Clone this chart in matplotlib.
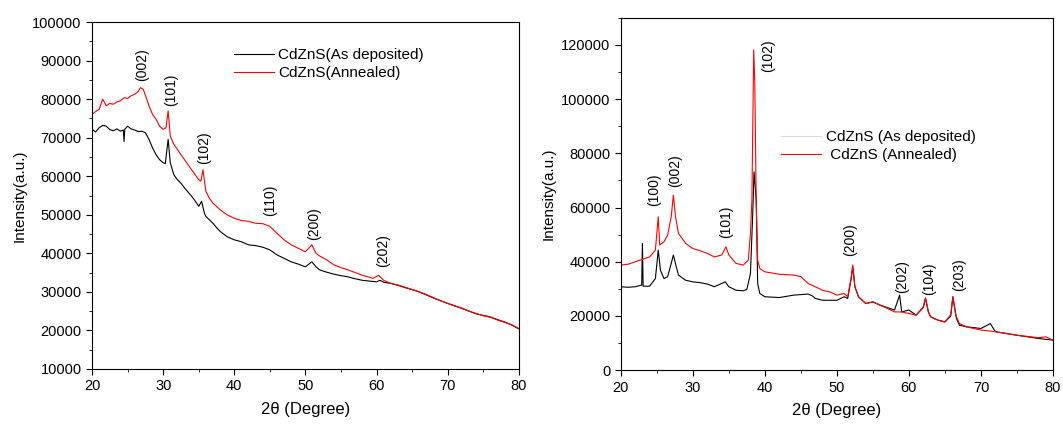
import numpy as np
import matplotlib.pyplot as plt
from matplotlib.ticker import MultipleLocator
from matplotlib.lines import Line2D

plt.rcParams['font.family'] = ['Liberation Sans', 'DejaVu Sans']

# ---- left panel: CdZnS films, broad background ----
l_dep_x = [20, 20.5, 21, 21.5, 22, 22.5, 23, 23.5, 24, 24.4, 24.5, 24.6, 25, 25.5, 26, 26.5, 27, 27.5, 28, 28.5,
           29, 29.5, 30, 30.3, 30.7, 31, 31.5, 32, 32.5, 33, 33.5, 34, 34.5, 35, 35.4, 35.8, 36, 36.5, 37, 37.5,
           38, 39, 40, 41, 42, 43, 44, 45, 46, 47, 48, 49, 50, 50.9, 51.5, 52, 53, 54, 55, 56, 57, 58, 59, 60,
           60.5, 61, 62, 63, 64, 65, 66, 67, 68, 69, 70, 71, 72, 73, 74, 75, 76, 77, 78, 79, 80]
l_dep_y = [72200, 71500, 72600, 73200, 73000, 72100, 71800, 72300, 71700, 72000, 69000, 72200, 73000, 72300,
           72000, 71600, 71700, 71300, 69600, 67400, 65600, 64300, 63500, 63300, 69600, 63500, 60400, 59100,
           58200, 57000, 55900, 54800, 53600, 52200, 53500, 50400, 49600, 48700, 47800, 46700, 45700, 44300,
           43500, 43000, 42200, 42000, 41600, 40900, 39600, 38700, 37800, 37200, 36500, 37800, 36500, 35700,
           35100, 34600, 34200, 33900, 33400, 33000, 32800, 32600, 33000, 32500, 32200, 31700, 31100, 30600,
           30000, 29200, 28400, 27700, 27000, 26400, 25700, 25000, 24300, 23900, 23500, 22800, 22200, 21400,
           20400]

l_ann_x = [20, 20.5, 21, 21.5, 22, 22.5, 23, 23.5, 24, 24.5, 25, 25.5, 26, 26.5, 26.8, 27.2, 27.6, 28, 28.5,
           29, 29.5, 30, 30.4, 30.7, 31, 31.5, 32, 32.5, 33, 33.5, 34, 34.5, 35, 35.3, 35.6, 36, 36.5, 37, 37.5,
           38, 39, 40, 41, 42, 43, 44, 45, 46, 47, 48, 49, 50, 50.9, 51.5, 52, 53, 54, 55, 56, 57, 58, 59,
           59.5, 60.3, 61, 62, 63, 64, 65, 66, 67, 68, 69, 70, 71, 72, 73, 74, 75, 76, 77, 78, 79, 80]
l_ann_y = [76100, 76800, 77400, 80000, 78300, 78900, 78700, 79300, 79600, 80400, 80200, 80900, 81300, 82000,
           83000, 82600, 80500, 78300, 76100, 74800, 73000, 72200, 72600, 77000, 70400, 68300, 67000, 65600,
           64300, 63000, 61700, 60400, 59100, 58700, 61700, 56100, 54300, 53000, 52200, 51300, 50000, 49100,
           48500, 48300, 47800, 47700, 47000, 45200, 43500, 42200, 41300, 40400, 42200, 40000, 39300, 38300,
           37000, 36300, 35700, 35000, 34300, 33800, 33500, 34300, 33000, 32200, 31800, 31200, 30600, 30000,
           29300, 28500, 27700, 27000, 26300, 25800, 25000, 24400, 23800, 23400, 22700, 22100, 21500, 20500]

l_hkl = ['(002)', '(101)', '(102)', '(110)', '(200)', '(202)']
l_hkl_x = [27.0, 31.1, 35.8, 45.1, 51.2, 60.9]
l_hkl_y = [88900, 82400, 67400, 53700, 47700, 40700]

# ---- right panel: CdZnS films, sharp reflections ----
r_dep_x = [20, 21, 22, 22.9, 23.0, 23.1, 24, 24.8, 25.2, 25.5, 26, 26.5, 27, 27.3, 27.7, 28, 29, 30, 31, 32,
           33, 34, 34.5, 35, 36, 37, 37.5, 38.0, 38.3, 38.5, 38.8, 39.0, 39.3, 40, 42, 44, 46, 46.6, 47, 48,
           50, 51, 51.5, 52.0, 52.2, 52.5, 53, 54, 55, 56, 57, 58, 58.7, 59, 60, 61, 62.0, 62.3, 62.7, 63, 64,
           65, 65.8, 66.1, 66.6, 67, 68, 70, 71.3, 72, 75, 78, 80]
r_dep_y = [30800, 30600, 30800, 31400, 46800, 31000, 31000, 33800, 44300, 36900, 33800, 34500, 39400, 42500,
           38200, 35100, 33200, 32600, 32300, 31800, 30800, 32000, 32600, 30800, 29500, 29300, 29800, 35700,
           56600, 73200, 62800, 32000, 28300, 27100, 26800, 27700, 28100, 27400, 26500, 25800, 25800, 27100,
           26500, 34000, 38200, 30800, 27100, 24600, 25200, 24000, 23100, 22200, 27700, 21500, 22200, 20300,
           23200, 26500, 21500, 19700, 18500, 17800, 20000, 27100, 19100, 16600, 16000, 15400, 17200, 14200,
           12900, 11700, 11100]

r_ann_x = [20, 21, 22, 23, 24, 24.8, 25.2, 25.4, 26, 26.5, 27.0, 27.3, 27.6, 28, 29, 30, 31, 32, 33, 34, 34.6,
           35, 36, 37, 37.7, 38.0, 38.2, 38.45, 38.6, 38.8, 39.0, 39.3, 40, 42, 44, 45, 46, 47, 48, 49, 50, 51,
           51.5, 52.0, 52.2, 52.5, 53, 54, 55, 56, 57, 58, 59, 60, 61, 62.0, 62.3, 62.7, 63, 64, 65, 65.8,
           66.1, 66.5, 67, 68, 70, 72, 75, 78, 79, 80]
r_ann_y = [38800, 39100, 40000, 40900, 41800, 44300, 56600, 46200, 47400, 49800, 56600, 64600, 56600, 50500,
           46800, 44900, 44100, 43100, 41800, 42500, 45500, 42500, 39400, 38800, 40600, 50500, 62800, 118200,
           106500, 62000, 40600, 37500, 36300, 35400, 35100, 34500, 32000, 30800, 29500, 28900, 27700, 28300,
           27100, 34500, 38800, 30800, 27100, 24600, 25200, 24000, 22800, 21500, 21500, 20900, 20300, 23400,
           26700, 21500, 19700, 18500, 17800, 20500, 27100, 20300, 17200, 16000, 14800, 14200, 12900, 12000,
           12300, 11100]

r_hkl = ['(100)', '(002)', '(101)', '(102)', '(200)', '(202)', '(104)', '(203)']
r_hkl_x = [24.6, 27.5, 34.6, 40.4, 51.9, 59.0, 62.8, 66.9]
r_hkl_y = [66500, 73600, 54800, 116000, 48000, 34700, 33800, 35400]

fig = plt.figure(figsize=(10.63, 4.26), dpi=100)
ax1 = fig.add_axes([0.0866, 0.134, 0.4014, 0.814])
ax2 = fig.add_axes([0.584, 0.131, 0.4066, 0.827])

# left
ax1.plot(l_dep_x, l_dep_y, color='black', lw=0.8)
ax1.plot(l_ann_x, l_ann_y, color='red', lw=0.8)
for t, x, y in zip(l_hkl, l_hkl_x, l_hkl_y):
    ax1.text(x, y, t, rotation=90, ha='center', va='center', fontsize=10)
ax1.set_xlim(20, 80)
ax1.set_ylim(10000, 100000)
ax1.yaxis.set_major_locator(MultipleLocator(10000))
ax1.yaxis.set_minor_locator(MultipleLocator(5000))
ax1.set_ylabel('Intensity(a.u.)', fontsize=11, labelpad=4)
ax1.legend(handles=[Line2D([], [], color='black', lw=0.8), Line2D([], [], color='red', lw=0.8)],
           labels=['CdZnS(As deposited)', 'CdZnS(Annealed)'], loc='upper left',
           bbox_to_anchor=(0.3, 0.965), frameon=False, fontsize=11, handlelength=2.6,
           handletextpad=0.3, labelspacing=0.25)

# right
ax2.plot(r_dep_x, r_dep_y, color='black', lw=0.8)
ax2.plot(r_ann_x, r_ann_y, color='red', lw=0.8)
for t, x, y in zip(r_hkl, r_hkl_x, r_hkl_y):
    ax2.text(x, y, t, rotation=90, ha='center', va='center', fontsize=10)
ax2.set_xlim(20, 80)
ax2.set_ylim(0, 130000)
ax2.yaxis.set_major_locator(MultipleLocator(20000))
ax2.yaxis.set_minor_locator(MultipleLocator(10000))
ax2.set_ylabel('Intensity(a.u.)', fontsize=11, labelpad=4)
ax2.legend(handles=[Line2D([], [], color='#dddddd', lw=0.8), Line2D([], [], color='red', lw=0.8)],
           labels=['CdZnS (As deposited)', ' CdZnS (Annealed)'], loc='upper left',
           bbox_to_anchor=(0.34, 0.72), frameon=False, fontsize=11, handlelength=2.6,
           handletextpad=0.3, labelspacing=0.25)

for ax in [ax1, ax2]:
    ax.xaxis.set_major_locator(MultipleLocator(10))
    ax.xaxis.set_minor_locator(MultipleLocator(5))
    ax.tick_params(which='both', direction='out', labelsize=10.5)
    ax.tick_params(which='major', length=4)
    ax.tick_params(which='minor', length=2.5)
    ax.set_xlabel('2θ (Degree)', fontsize=12, labelpad=6)

fig.savefig('out.png', dpi=100)
